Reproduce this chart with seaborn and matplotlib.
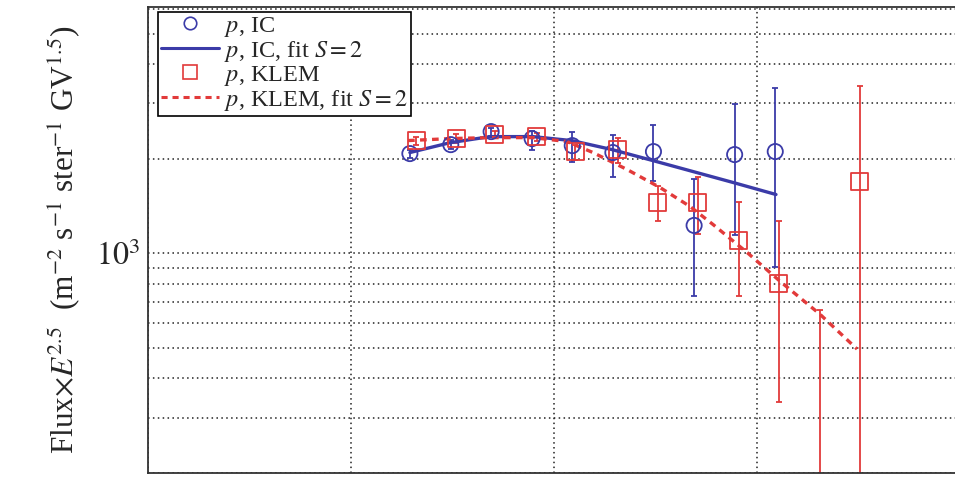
import numpy as np
import pandas as pd
import matplotlib
matplotlib.use("Agg")
import matplotlib.pyplot as plt
import seaborn as sns
from matplotlib.lines import Line2D
from matplotlib.ticker import LogLocator, NullFormatter, FixedLocator, FixedFormatter

# ---- data -------------------------------------------------------------
ic_x = [195, 310, 490, 780, 1230, 1950, 3090, 4900, 7760, 12300]
ic_y = [2077, 2218, 2440, 2318, 2202, 2093, 2108, 1227, 2062, 2108]
ic_lo = [2010, 2150, 2370, 2139, 1959, 1756, 1693, 730, 1140, 903]
ic_hi = [2140, 2290, 2510, 2456, 2440, 2386, 2570, 1729, 2993, 3366]

klem_x = [210, 330, 510, 820, 1270, 2060, 3250, 5120, 8150, 12800, 20400, 32100]
klem_y = [2284, 2318, 2386, 2352, 2108, 2139, 1452, 1452, 1100, 803, 150, 1693]
klem_lo = [2220, 2250, 2320, 2280, 1987, 1945, 1263, 1149, 730, 337, 60, 100]
klem_hi = [2350, 2390, 2450, 2420, 2218, 2333, 1643, 1756, 1452, 1263, 659, 3414]

ic_fit_x = [195, 308, 484, 788, 1227, 1931, 3073, 4839, 7616, 12400]
ic_fit_y = [2093, 2250, 2352, 2352, 2284, 2139, 1973, 1821, 1681, 1539]

klem_fit_x = [191, 308, 484, 788, 1159, 1556, 2291, 3327, 4677, 6067, 8928,
              12980, 20430, 31100]
klem_fit_y = [2285, 2318, 2335, 2335, 2268, 2093, 1848, 1620, 1410, 1236, 1007,
              815, 640, 496]

legend_labels = [r"$p$, IC", r"$p$, IC, fit $S=2$", r"$p$, KLEM",
                 r"$p$, KLEM, fit $S=2$"]
ylabel = (r"Flux$\times E^{2.5}$  (m$^{-2}$ s$^{-1}$ ster$^{-1}$ GV$^{1.5}$)")

# ---- style ------------------------------------------------------------
sns.set_style("white")
plt.rcParams["font.family"] = ["Liberation Serif", "DejaVu Serif"]
plt.rcParams["mathtext.fontset"] = "stix"

BLUE = "#3b3ba8"
RED = "#e23a3a"

fig = plt.figure(figsize=(9.55, 4.8), dpi=100)
ax = fig.add_axes([148 / 955, 7 / 480, 812 / 955, 466 / 480])
ax.set_xscale("log")
ax.set_yscale("log")

ic = pd.DataFrame({"x": ic_x, "y": ic_y, "lo": ic_lo, "hi": ic_hi})
kl = pd.DataFrame({"x": klem_x, "y": klem_y, "lo": klem_lo, "hi": klem_hi})
icf = pd.DataFrame({"x": ic_fit_x, "y": ic_fit_y})
klf = pd.DataFrame({"x": klem_fit_x, "y": klem_fit_y})

# error bars
ax.errorbar(ic["x"], ic["y"], yerr=[ic["y"] - ic["lo"], ic["hi"] - ic["y"]],
            fmt="none", ecolor=BLUE, elinewidth=1.3, capsize=2.5, capthick=1.3,
            zorder=2)
ax.errorbar(kl["x"], kl["y"], yerr=[kl["y"] - kl["lo"], kl["hi"] - kl["y"]],
            fmt="none", ecolor=RED, elinewidth=1.3, capsize=2.5, capthick=1.3,
            zorder=2)

# fit curves
sns.lineplot(data=icf, x="x", y="y", ax=ax, color=BLUE, lw=2.4, zorder=3)
sns.lineplot(data=klf, x="x", y="y", ax=ax, color=RED, lw=2.4,
             linestyle=(0, (2.0, 1.6)), zorder=3)

# data points
sns.scatterplot(data=ic, x="x", y="y", ax=ax, marker="o", s=120,
                facecolor="none", edgecolor=BLUE, linewidth=1.3, zorder=4)
sns.scatterplot(data=kl, x="x", y="y", ax=ax, marker="s", s=150,
                facecolor="none", edgecolor=RED, linewidth=1.3, zorder=4)

ax.set_xlim(10, 1e5)
ax.set_ylim(200, 6080)

# ticks and grid
ax.xaxis.set_major_locator(LogLocator(base=10, numticks=10))
ax.xaxis.set_minor_locator(LogLocator(base=10, subs=np.arange(2, 10), numticks=20))
ax.xaxis.set_major_formatter(NullFormatter())
ax.xaxis.set_minor_formatter(NullFormatter())
ax.yaxis.set_major_locator(FixedLocator([1000]))
ax.yaxis.set_major_formatter(FixedFormatter([r"$10^3$"]))
ax.yaxis.set_minor_locator(LogLocator(base=10, subs=np.arange(2, 10), numticks=20))
ax.yaxis.set_minor_formatter(NullFormatter())

ax.tick_params(axis="both", which="both", direction="in", top=False,
               right=False, color="k", width=1.2)
ax.tick_params(axis="x", which="major", length=13)
ax.tick_params(axis="x", which="minor", length=7)
ax.tick_params(axis="y", which="major", length=14, labelsize=23, pad=6)
ax.tick_params(axis="y", which="minor", length=13)

grid_kw = dict(color="#222222", linestyle=(0, (1, 2.2)), linewidth=1.1)
ax.xaxis.grid(True, which="major", **grid_kw)
ax.yaxis.grid(True, which="both", **grid_kw)

for s in ax.spines.values():
    s.set_color("#333333")
    s.set_linewidth(1.3)

ax.set_xlabel("")
ax.set_ylabel(ylabel, fontsize=22.5, labelpad=9)

handles = [
    Line2D([], [], marker="o", ls="none", mfc="none", mec=BLUE, ms=9, mew=1.2),
    Line2D([], [], color=BLUE, lw=2.2),
    Line2D([], [], marker="s", ls="none", mfc="none", mec=RED, ms=10, mew=1.2),
    Line2D([], [], color=RED, lw=2.2, ls=(0, (2.0, 1.6))),
]
leg = ax.legend(handles, legend_labels, loc="upper left",
                bbox_to_anchor=(0.012, 0.99), borderaxespad=0, fontsize=17.5,
                frameon=True, fancybox=False, handlelength=2.4,
                handletextpad=0.2, labelspacing=0.0, borderpad=0.12)
leg.get_frame().set_edgecolor("black")
leg.get_frame().set_linewidth(1.2)
leg.get_frame().set_alpha(1)

fig.savefig("out.png", dpi=100)
